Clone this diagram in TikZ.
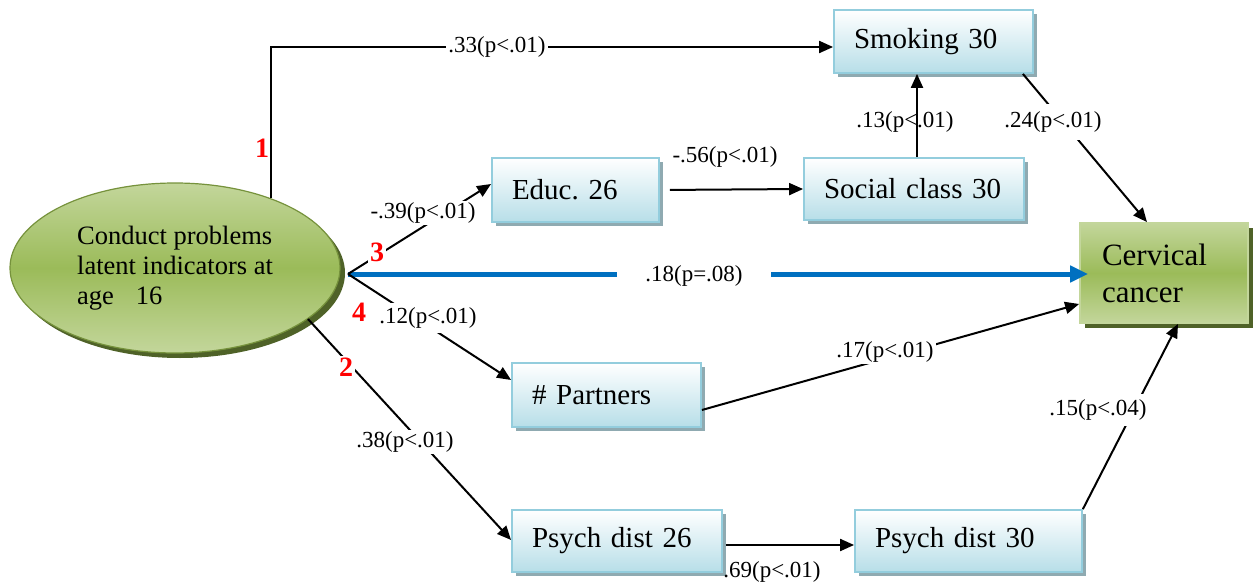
\documentclass[tikz,border=0pt]{standalone}
\usepackage{fontspec}
\setmainfont{Liberation Serif}
\frenchspacing
\usetikzlibrary{shapes.geometric,shadows,arrows.meta}
\definecolor{boxblue}{HTML}{B7DEE8}
\definecolor{boxborder}{HTML}{93CDDD}
\definecolor{boxshadow}{HTML}{8FAAB1}
\definecolor{lgreen}{HTML}{C3D69B}
\definecolor{mgreen}{HTML}{9BBB59}
\definecolor{dgreen}{HTML}{76923C}
\definecolor{sgreen}{HTML}{4F6228}
\definecolor{arrowblue}{HTML}{0070C0}
\begin{document}
\begin{tikzpicture}[x=1pt,y=-1pt,
  stepbox/.style={draw=boxborder, line width=1.8pt, top color=white, bottom color=boxblue,
    align=left, inner xsep=20pt, inner ysep=0pt, minimum height=63pt,
    font=\fontsize{29}{33}\selectfont,
    drop shadow={shadow xshift=4pt, shadow yshift=-4pt, fill=boxshadow, opacity=1}},
  lbl/.style={font=\fontsize{23}{26}\selectfont, inner sep=2pt},
  wlbl/.style={lbl, fill=white},
  num/.style={font=\fontsize{28}{30}\selectfont\bfseries, text=red, inner sep=2pt},
  conn/.style={line width=2pt, -{Triangle[length=14pt,width=12pt]}},
]
\useasboundingbox (0,0) rectangle (1256,583);

% nodes
\node[ellipse, draw=dgreen, line width=1.2pt, top color=lgreen, bottom color=lgreen,
  middle color=mgreen, minimum width=330pt, minimum height=170pt, align=left,
  font=\fontsize{26.5}{30}\selectfont,
  drop shadow={shadow xshift=5pt, shadow yshift=-5pt, fill=sgreen, opacity=1}]
  (E) at (175,268) {Conduct problems\\latent indicators at\\age\hspace{22pt}16};

\node[stepbox, text width=159pt] (S) at (933.5,41.5) {Smoking 30};
\node[stepbox, text width=127pt, minimum height=64pt] (Ed) at (575.5,190) {Educ. 26};
\node[stepbox, text width=180pt, minimum height=62pt] (So) at (914,189) {Social class 30};
\node[stepbox, text width=149pt, minimum height=64pt] (Pa) at (606.5,395) {\# Partners};
\node[stepbox, text width=170pt, minimum height=62pt] (P26) at (617,541) {Psych dist 26};
\node[stepbox, text width=187pt, minimum height=62pt] (P30) at (968.5,541) {Psych dist 30};
\node[draw=lgreen, line width=1.8pt, top color=lgreen, bottom color=lgreen, middle color=mgreen,
  align=left, inner xsep=22pt, text width=124pt, minimum height=100pt,
  font=\fontsize{31}{37}\selectfont,
  drop shadow={shadow xshift=5pt, shadow yshift=-5pt, fill=sgreen, opacity=1}]
  (C) at (1164,273) {Cervical\\cancer};

\coordinate (J) at (348,274);

% connectors
\draw[conn] (E.36) |- ([yshift=-5.5pt]S.west);
\node[wlbl] (l33) at (497,47) {.33(p<.01)};
\node[num] (n1) at (262,148) {1};

\draw[conn] (E.-21) -- ([yshift=1pt]P26.west);
\node[num, fill=white] (n2) at (346,367) {2};
\node[wlbl] (l38) at (405,442) {.38(p<.01)};

\draw[line width=5pt, arrowblue, -{Triangle[length=18pt,width=16pt]}, shorten >=-9pt] (J) -- (J -| C.west);
\node[wlbl, inner xsep=28pt] (l18) at (694,276) {.18(p=.08)};

\draw[conn] (J) -- ([yshift=6pt]Ed.west);
\node[wlbl] (l39) at (423,213) {-.39(p<.01)};
\node[num, fill=white] (n3) at (377,252) {3};

\draw[conn] (J) -- ([yshift=15pt]Pa.west);
\node[wlbl, inner ysep=5pt] (l12) at (428,318) {.12(p<.01)};
\node[num, fill=white] (n4) at (359,312) {4};

\draw[conn, shorten <=10pt] (Ed.east) -- (So.west);
\node[lbl] (l56) at (725,157) {-.56(p<.01)};

\draw[conn] ([xshift=3pt]So.north) -- ([xshift=3pt]So.north |- S.south);
\node[lbl] (l13) at (905,122) {.13(p<.01)};

\draw[conn] ([xshift=-11pt]S.south east) -- ([xshift=-17pt]C.north);
\node[wlbl, inner ysep=8pt] (l24) at (1053,122) {.24(p<.01)};

\draw[conn] ([yshift=-15pt]Pa.east) -- ([yshift=-31pt]C.west);
\node[wlbl] (l17) at (885,352) {.17(p<.01)};

\draw[conn] (P30.north east) -- ([xshift=14pt]C.south);
\node[wlbl, inner ysep=6pt] (l15) at (1098,410) {.15(p<.04)};

\draw[conn, shorten <=3pt] ([yshift=-4pt]P26.east) -- ([yshift=-4pt]P26.east -| P30.west);
\node[lbl] (l69) at (772,572) {.69(p<.01)};
\end{tikzpicture}
\end{document}
